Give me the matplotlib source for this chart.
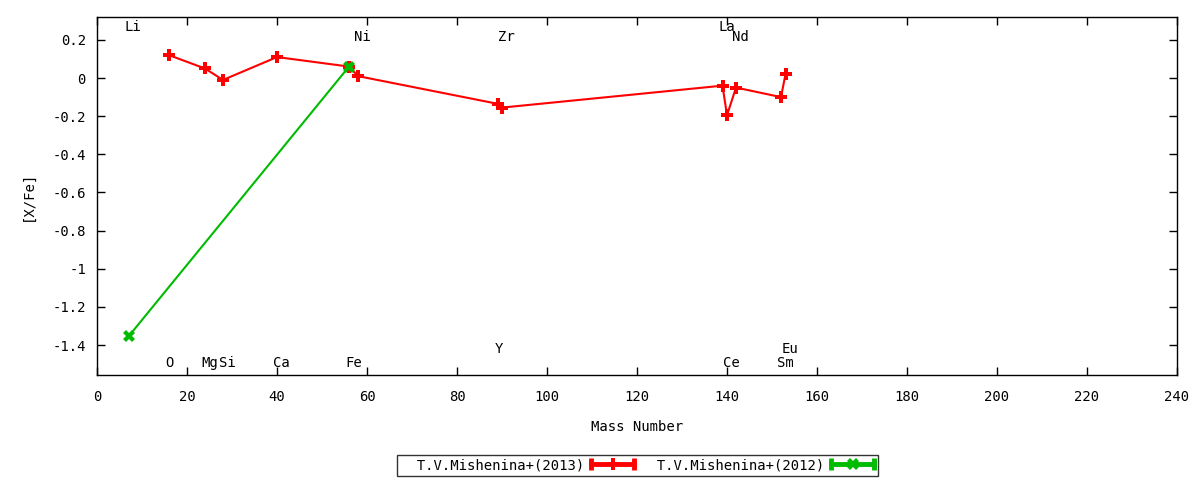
import matplotlib
matplotlib.use("Agg")
import matplotlib.pyplot as plt
from matplotlib.lines import Line2D
from matplotlib.legend_handler import HandlerBase
from matplotlib.ticker import FormatStrFormatter, MultipleLocator

plt.rcParams['font.family'] = ['DejaVu Sans Mono']
plt.rcParams['axes.unicode_minus'] = False

# T.V.Mishenina+(2013)
elem_2013 = ['O', 'Mg', 'Si', 'Ca', 'Fe', 'Ni', 'Y', 'Zr', 'La', 'Ce', 'Nd', 'Sm', 'Eu']
mass_2013 = [16, 24, 28, 40, 56, 58, 89, 90, 139, 140, 142, 152, 153]
xfe_2013 = [0.12, 0.05, -0.01, 0.11, 0.06, 0.01, -0.135, -0.155, -0.04, -0.195, -0.05, -0.10, 0.02]

# T.V.Mishenina+(2012)
elem_2012 = ['Li', 'Fe']
mass_2012 = [7, 56]
xfe_2012 = [-1.355, 0.06]

# element labels: name, x, y
label_names = ['Li', 'O', 'Mg', 'Si', 'Ca', 'Fe', 'Ni', 'Y', 'Zr', 'La', 'Ce', 'Nd', 'Sm', 'Eu']
label_x = [8, 16, 25, 29, 41, 57, 59, 89.3, 91, 140, 141, 143, 153, 154]
label_y = [0.265, -1.495, -1.495, -1.495, -1.495, -1.495, 0.213, -1.42, 0.213, 0.265, -1.495, 0.213, -1.495, -1.42]

FS = 10


class GnuplotHandler(HandlerBase):
    # line with end caps and the point marker in the middle, like gnuplot's key
    def create_artists(self, legend, orig, xdescent, ydescent, width, height, fontsize, trans):
        y = height / 2 - ydescent
        x0, x1 = -xdescent, width - xdescent
        c = orig.get_color()
        bar = Line2D([x0, x1], [y, y], color=c, lw=3.5)
        caps = Line2D([x0, x1], [y, y], ls='none', marker='|', ms=9, mew=3.5, color=c)
        mid = Line2D([(x0 + x1) / 2], [y], ls='none', marker=orig.get_marker(),
                     ms=orig.get_markersize(), mew=0, color=c)
        for a in (bar, caps, mid):
            a.set_transform(trans)
        return [bar, caps, mid]


fig = plt.figure(figsize=(12, 4.8), dpi=100)
ax = fig.add_axes([97/1200, 1-375/480, 1080/1200, 358/480])

l1, = ax.plot(mass_2013, xfe_2013, color='#ff0000', lw=1.5, marker='P', ms=8, mew=0,
              label='  T.V.Mishenina+(2013)')
l2, = ax.plot(mass_2012, xfe_2012, color='#00bb00', lw=1.5, marker='X', ms=8, mew=0,
              label='  T.V.Mishenina+(2012)')

for name, x, y in zip(label_names, label_x, label_y):
    ax.text(x, y, name, ha='center', va='center', fontsize=FS)

ax.set_xlim(0, 240)
ax.set_ylim(-1.557, 0.32)
ax.xaxis.set_major_locator(MultipleLocator(20))
ax.yaxis.set_major_locator(MultipleLocator(0.2))
ax.yaxis.set_major_formatter(FormatStrFormatter('%g'))
ax.tick_params(direction='in', top=True, right=True, labelsize=FS, length=6, width=1, pad=8)
ax.tick_params(axis='x', pad=11)
for s in ax.spines.values():
    s.set_linewidth(1)

ax.set_xlabel('Mass Number', fontsize=FS, labelpad=11)
ax.set_ylabel('[X/Fe]', fontsize=FS, labelpad=13)

leg = ax.legend(handles=[l1, l2], handler_map={Line2D: GnuplotHandler()},
                loc='upper center', bbox_to_anchor=(0.5, -0.223), ncol=2, fontsize=FS,
                frameon=True, fancybox=False, edgecolor='black', borderpad=0.25,
                handlelength=3.1, columnspacing=0.4, markerfirst=False, handletextpad=0.5,
                borderaxespad=0)
leg.get_frame().set_linewidth(1)

fig.savefig('out.png', dpi=100)
